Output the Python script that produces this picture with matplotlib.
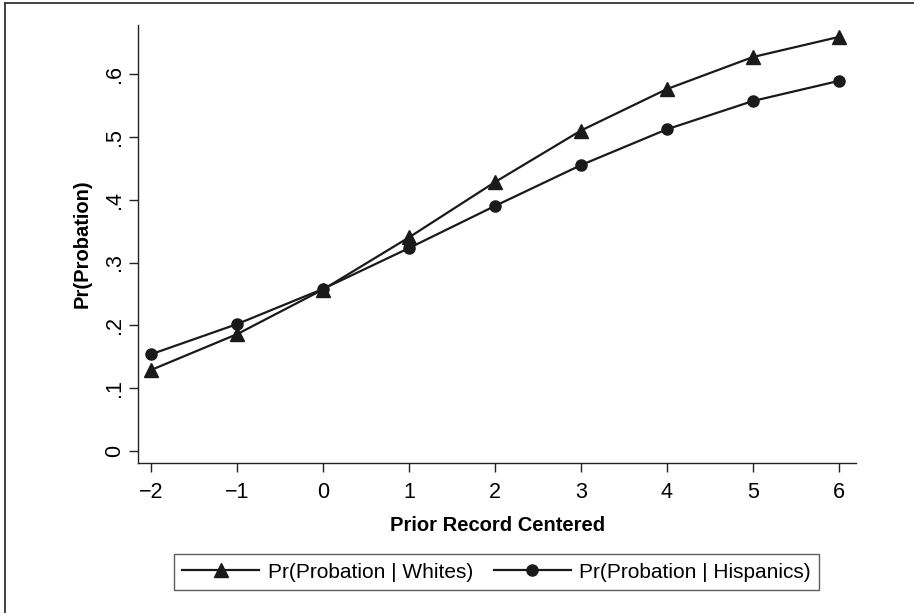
import matplotlib
matplotlib.use("Agg")
import matplotlib.pyplot as plt
from matplotlib.lines import Line2D

plt.rcParams['font.family'] = ['Liberation Sans Narrow', 'Liberation Sans', 'DejaVu Sans']

prior_record = [-2, -1, 0, 1, 2, 3, 4, 5, 6]
pr_whites = [0.129, 0.186, 0.257, 0.340, 0.428, 0.510, 0.576, 0.627, 0.659]
pr_hispanics = [0.154, 0.202, 0.258, 0.323, 0.390, 0.455, 0.512, 0.557, 0.589]

y_ticks = [0, 0.1, 0.2, 0.3, 0.4, 0.5, 0.6]
y_ticklabels = ["0", ".1", ".2", ".3", ".4", ".5", ".6"]

ink = "#1a1a1a"

fig = plt.figure(figsize=(9.14, 6.13), dpi=100)
ax = fig.add_axes([0.1513, 0.2442, 0.7852, 0.7150])

ax.plot(prior_record, pr_whites, color=ink, lw=1.6, marker="^", ms=10,
        label="Pr(Probation | Whites)")
ax.plot(prior_record, pr_hispanics, color=ink, lw=1.6, marker="o", ms=8,
        label="Pr(Probation | Hispanics)")

ax.set_xlim(-2.15, 6.2)
ax.set_ylim(-0.0196, 0.678)
ax.set_xticks(prior_record)
ax.set_yticks(y_ticks)
ax.set_yticklabels(y_ticklabels, rotation=90, va="center")

for side in ["top", "right"]:
    ax.spines[side].set_visible(False)
for side in ["left", "bottom"]:
    ax.spines[side].set_color("#222222")
    ax.spines[side].set_linewidth(1.0)

ax.tick_params(axis="both", colors="#222222", width=1.0, length=6.5, labelsize=15.5,
               labelcolor="black")
ax.tick_params(axis="x", pad=7)
ax.tick_params(axis="y", pad=3)

ax.set_xlabel("Prior Record Centered", fontsize=14.5, fontweight="bold")
ax.xaxis.set_label_coords(0.5, -0.1408)
ax.xaxis.label.set_va("center")
ax.set_ylabel("Pr(Probation)", fontsize=14.5, fontweight="bold")
ax.yaxis.set_label_coords(-0.0784, 0.5)
ax.yaxis.label.set_va("center")

leg = ax.legend(loc="center", bbox_to_anchor=(0.5433, 0.0665),
                bbox_transform=fig.transFigure, ncol=2, fontsize=15,
                frameon=True, fancybox=False, edgecolor="#333333",
                handlelength=3.7, handletextpad=0.4, columnspacing=1.0,
                borderpad=0.4, borderaxespad=0)
leg.get_frame().set_linewidth(1.0)

# outer frame (left and top edges only visible)
fig.add_artist(Line2D([5 / 914, 5 / 914], [0, 1 - 3 / 613], transform=fig.transFigure,
                      color="#333333", lw=1.3))
fig.add_artist(Line2D([5 / 914, 1], [1 - 3 / 613, 1 - 3 / 613], transform=fig.transFigure,
                      color="#333333", lw=1.3))

fig.savefig("out.png", dpi=100)
